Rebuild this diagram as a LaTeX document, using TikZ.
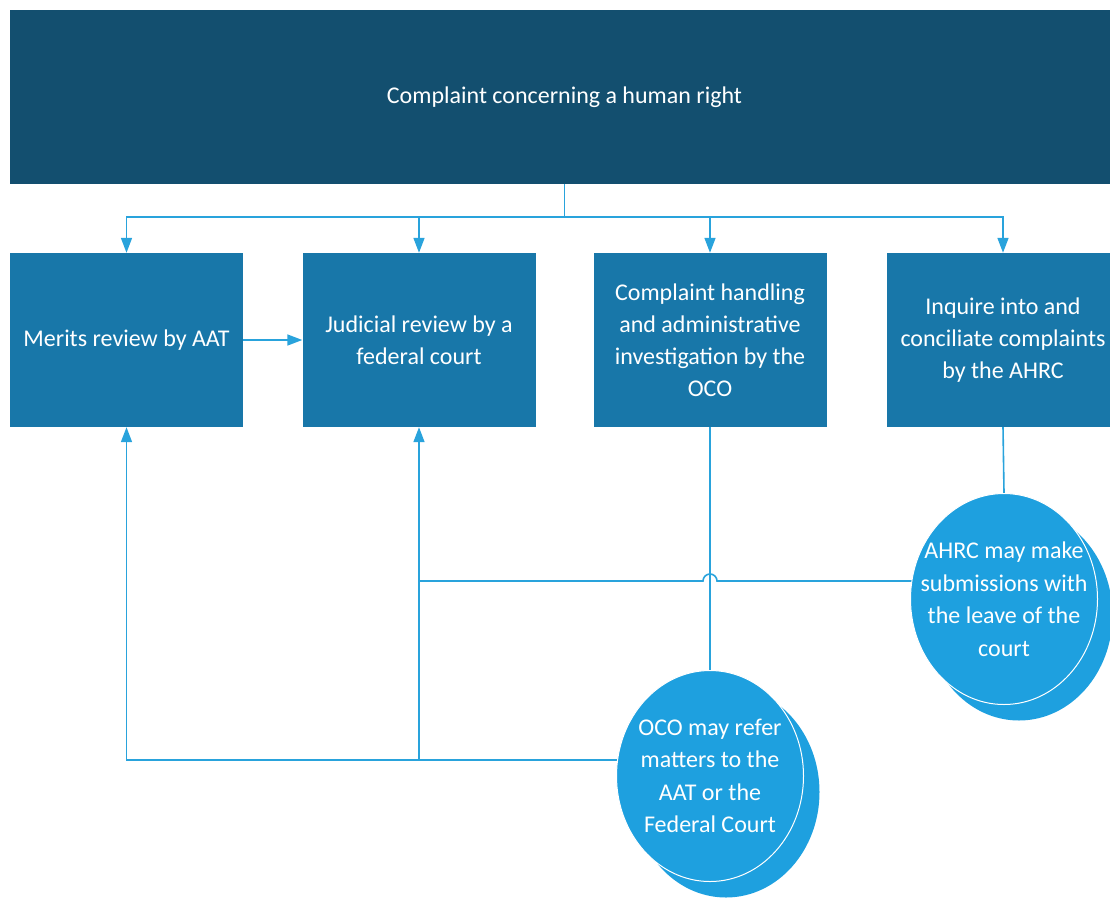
\documentclass[tikz,border=0pt]{standalone}
\usepackage{fontspec}
\setmainfont{Carlito}
\usetikzlibrary{arrows.meta,shapes.geometric,backgrounds}
\definecolor{topblue}{HTML}{134F6F}
\definecolor{boxblue}{HTML}{1877A9}
\definecolor{circblue}{HTML}{1EA0DF}
\definecolor{lineblue}{HTML}{29A3DC}
\tikzset{
  topbox/.style={fill=topblue,minimum width=1109pt,minimum height=174pt,inner sep=0pt,text=white,font=\fontsize{24}{32}\selectfont,align=center},
  stepbox/.style={fill=boxblue,minimum width=233pt,minimum height=174pt,inner sep=0pt,text=white,font=\fontsize{24}{32}\selectfont,align=center},
  bubble/.style={ellipse,fill=circblue,draw=white,line width=1pt,minimum width=187pt,minimum height=211pt,inner sep=-45pt,text=white,font=\fontsize{24}{32.5}\selectfont,align=center},
  bubbleback/.style={ellipse,fill=circblue,minimum width=187pt,minimum height=211pt,inner sep=0pt},
  conn/.style={draw=lineblue,line width=1.6pt},
  arr/.style={conn,-{Triangle[length=15pt,width=11pt]}}
}
\begin{document}
\begin{tikzpicture}[x=1pt,y=-1pt]
\useasboundingbox (0,0) rectangle (1110,900);
\clip (0,0) rectangle (1110,900);
\node[topbox] (top) at (564.5,97) {Complaint concerning a human right};
\node[stepbox] (b1) at (126.5,340) {Merits review by AAT};
\node[stepbox] (b2) at (419,340) {Judicial review by a\\federal court};
\node[stepbox] (b3) at (710,340) {Complaint handling\\and administrative\\investigation by the\\OCO};
\node[stepbox] (b4) at (1003,340) {Inquire into and\\conciliate complaints\\by the AHRC};
\node[bubbleback] (ocob) at (726,792) {};
\node[bubble] (oco) at (710,776) {OCO may refer\\matters to the\\AAT or the\\Federal Court};
\node[bubbleback] (ahrcb) at (1019,615) {};
\node[bubble] (ahrc) at (1004,599) {AHRC may make\\submissions with\\the leave of the\\court};
\coordinate (j) at (564.5,217);
\coordinate (ocoin) at (690,760);
\coordinate (ahrcin) at (960,581);
\coordinate (jumpR) at (717,581);
\begin{pgfonlayer}{background}
\draw[conn] (top.south) -- (j);
\draw[arr] (j) -| (b1.north);
\draw[arr] (j) -| (b2.north);
\draw[arr] (j) -| (b3.north);
\draw[arr] (j) -| (b4.north);
\draw[arr] (b1.east) -- (b2.west);
\draw[conn] (b3.south) -- (oco.north);
\draw[conn] (b4.south) -- (ahrc.north);
\draw[arr] (ocoin) -| (b1.south);
\draw[arr] (b2.south |- ocoin) -- (b2.south);
\draw[conn] (ahrcin) -- (jumpR) arc[start angle=0,end angle=180,radius=7pt] -- (b2.south |- ahrcin);
\end{pgfonlayer}
\end{tikzpicture}
\end{document}
